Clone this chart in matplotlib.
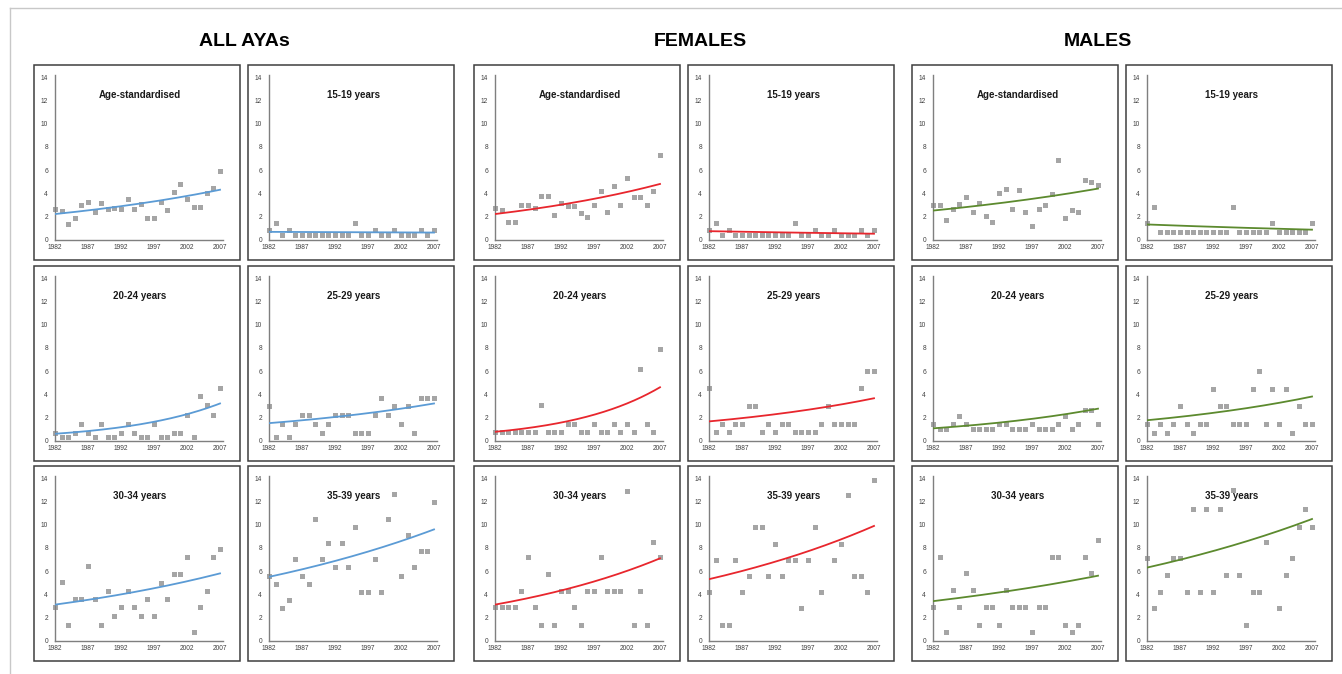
"""
Cancer incidence trends among adolescents and young adults, 1982-2007.
Three groups (all, females, males), six panels each.
"""
import matplotlib
matplotlib.use('Agg')
import matplotlib.pyplot as plt
from matplotlib.patches import Rectangle
from matplotlib.lines import Line2D
import numpy as np

years = np.arange(1982, 2008)
year_ticks = [1982, 1987, 1992, 1997, 2002, 2007]
rate_ticks = [0, 2, 4, 6, 8, 10, 12, 14]

group_titles = ['ALL AYAs', 'FEMALES', 'MALES']
panel_titles = [['Age-standardised', '15-19 years'],
                ['20-24 years', '25-29 years'],
                ['30-34 years', '35-39 years']]
trend_colours = ['#5b9bd5', '#e8262d', '#5c8a2e']

nan = np.nan

# ALL AYAs
all_std = [2.66, 2.5, 1.33, 1.85, 2.94, 3.23, 2.37, 3.18, 2.66, 2.68, 2.66, 3.46, 2.6,
           3.06, 1.9, 1.85, 3.23, 2.54, 4.1, 4.76, 3.46, 2.83, 2.83, 3.98, 4.45, 5.95]
all_15_19 = [0.78, 1.44, 0.35, 0.78, 0.35, 0.35, 0.35, 0.35, 0.35, 0.35, 0.35, 0.35, 0.35,
             1.44, 0.35, 0.35, 0.78, 0.35, 0.35, 0.78, 0.35, 0.35, 0.35, 0.78, 0.35, 0.78]
all_20_24 = [0.66, 0.29, 0.29, 0.66, 1.44, 0.66, 0.29, 1.44, 0.29, 0.29, 0.66, 1.44, 0.66,
             0.29, 0.29, 1.44, 0.29, 0.29, 0.66, 0.66, 2.22, 0.29, 3.81, 3.03, 2.22, 4.56]
all_25_29 = [2.94, 0.29, 1.39, 0.29, 1.39, 2.22, 2.22, 1.39, 0.66, 1.39, 2.22, 2.22, 2.22,
             0.66, 0.66, 0.66, 2.22, 3.7, 2.22, 2.94, 1.39, 2.94, 0.66, 3.7, 3.7, 3.7]
all_30_34 = [2.88, 5.06, 1.37, 3.6, 3.6, 6.45, 3.6, 1.37, 4.27, 2.15, 2.88, 4.27, 2.88,
             2.15, 3.6, 2.15, 5.0, 3.6, 5.73, 5.73, 7.18, 0.7, 2.88, 4.27, 7.18, 7.9]
all_35_39 = [5.58, 4.9, 2.82, 3.46, 7.03, 5.58, 4.9, 10.5, 7.03, 8.4, 6.37, 8.4, 6.37,
             9.85, 4.2, 4.2, 7.03, 4.2, 10.5, 12.7, 5.58, 9.16, 6.37, 7.7, 7.7, 11.98]

# FEMALES
fem_std = [2.74, 2.57, 1.5, 1.5, 3.0, 3.0, 2.71, 3.78, 3.78, 2.1, 3.18, 2.89, 2.89,
           2.25, 1.96, 3.0, 4.19, 2.4, 4.65, 3.0, 5.28, 3.64, 3.64, 3.0, 4.21, 7.3]
fem_15_19 = [0.78, 1.44, 0.35, 0.78, 0.35, 0.35, 0.35, 0.35, 0.35, 0.35, 0.35, 0.35, 0.35,
             1.44, 0.35, 0.35, 0.78, 0.35, 0.35, 0.78, 0.35, 0.35, 0.35, 0.78, 0.35, 0.78]
fem_20_24 = [0.72, 0.72, 0.72, 0.72, 0.72, 0.72, 0.72, 3.09, 0.72, 0.72, 0.72, 1.44, 1.44,
             0.72, 0.72, 1.44, 0.72, 0.72, 1.44, 0.72, 1.44, 0.72, 6.2, 1.44, 0.72, 7.88]
fem_25_29 = [4.53, 0.72, 1.44, 0.72, 1.44, 1.44, 2.94, 2.94, 0.72, 1.44, 0.72, 1.44, 1.44,
             0.72, 0.72, 0.72, 0.72, 1.44, 2.94, 1.44, 1.44, 1.44, 1.44, 4.53, 6.0, 6.0]
fem_30_34 = [2.88, 2.88, 2.88, 2.88, 4.27, 7.18, 2.88, 1.37, 5.73, 1.37, 4.27, 4.27, 2.88,
             1.37, 4.27, 4.27, 7.18, 4.27, 4.27, 4.27, 12.9, 1.37, 4.27, 1.37, 8.55, 7.18]
fem_35_39 = [4.19, 6.98, 1.31, 1.31, 6.98, 4.19, 5.55, 9.8, 9.8, 5.55, 8.34, 5.55, 6.98,
             6.98, 2.82, 6.98, 9.8, 4.19, nan, 6.98, 8.34, 12.56, 5.55, 5.55, 4.19, 13.9]

# MALES
male_std = [2.94, 2.94, 1.65, 2.66, 3.06, 3.67, 2.37, 3.18, 2.0, 1.5, 4.04, 4.33, 2.66,
            4.27, 2.37, 1.15, 2.66, 3.0, 3.9, 6.84, 1.9, 2.54, 2.37, 5.17, 4.94, 4.73]
male_15_19 = [1.44, 2.83, 0.66, 0.66, 0.66, 0.66, 0.66, 0.66, 0.66, 0.66, 0.66, 0.66, 0.66,
              2.83, 0.66, 0.66, 0.66, 0.66, 0.66, 1.44, 0.66, 0.66, 0.66, 0.66, 0.66, 1.44]
male_20_24 = [1.44, 1.0, 1.0, 1.44, 2.08, 1.44, 1.0, 1.0, 1.0, 1.0, 1.44, 1.44, 1.0,
              1.0, 1.0, 1.44, 1.0, 1.0, 1.0, 1.44, 2.08, 1.0, 1.44, 2.6, 2.6, 1.44]
male_25_29 = [1.39, 0.64, 1.39, 0.64, 1.39, 2.94, 1.39, 0.64, 1.39, 1.39, 4.45, 2.94, 2.94,
              1.39, 1.39, 1.39, 4.45, 6.0, 1.39, 4.45, 1.39, 4.45, 0.64, 2.94, 1.39, 1.39]
male_30_34 = [2.88, 7.24, 0.7, 4.33, 2.88, 5.81, 4.33, 1.37, 2.88, 2.88, 1.37, 4.33, 2.88,
              2.88, 2.88, 0.7, 2.88, 2.88, 7.24, 7.24, 1.37, 0.7, 1.37, 7.24, 5.81, 8.7]
male_35_39 = [7.12, 2.82, 4.2, 5.67, 7.12, 7.12, 4.2, 11.4, 4.2, 11.4, 4.2, 11.4, 5.67,
              13.0, 5.67, 1.37, 4.2, 4.2, 8.55, nan, 2.82, 5.67, 7.12, 9.8, 11.4, 9.8]

# Fitted trend (constant annual change): value in 1982 and in 2007
# order per group: std, 15-19, 20-24, 25-29, 30-34, 35-39
all_trend_1982 = [2.2, 0.66, 0.58, 1.5, 3.1, 5.5]
all_trend_2007 = [4.3, 0.6, 3.2, 3.2, 5.8, 9.6]
fem_trend_1982 = [2.2, 0.72, 0.75, 1.65, 3.1, 5.3]
fem_trend_2007 = [4.8, 0.5, 4.6, 3.65, 7.1, 9.9]
male_trend_1982 = [2.5, 1.3, 1.05, 1.75, 3.4, 6.3]
male_trend_2007 = [4.4, 0.85, 2.75, 3.8, 5.6, 10.5]

group_series = [
    [[all_std, all_15_19], [all_20_24, all_25_29], [all_30_34, all_35_39]],
    [[fem_std, fem_15_19], [fem_20_24, fem_25_29], [fem_30_34, fem_35_39]],
    [[male_std, male_15_19], [male_20_24, male_25_29], [male_30_34, male_35_39]],
]
group_trends = [(all_trend_1982, all_trend_2007),
                (fem_trend_1982, fem_trend_2007),
                (male_trend_1982, male_trend_2007)]


def trend_curve(start, end, x_out):
    """Log-linear trend through the fitted 1982 and 2007 values."""
    frac = (x_out - 1982) / 25.0
    return start * (end / start) ** frac


# Layout in pixels
W, H = 1342, 674
box_lefts = [[34, 248], [474, 688], [912, 1126]]
box_width = 206
box_tops = [65, 266, 466]
box_height = 195
header_x = [244, 700, 1098]

plt.rcParams['font.family'] = ['Liberation Sans', 'DejaVu Sans']

fig = plt.figure(figsize=(W / 100, H / 100), dpi=100)
fig.patch.set_facecolor('white')

# Outer frame (top and left edges)
fig.add_artist(Line2D([10 / W, 1], [1 - 8 / H, 1 - 8 / H], transform=fig.transFigure,
                      color='#c8c8c8', lw=1.0))
fig.add_artist(Line2D([10 / W, 10 / W], [0, 1 - 8 / H], transform=fig.transFigure,
                      color='#c8c8c8', lw=1.0))

x_smooth = np.linspace(1982, 2007, 200)

for g in range(3):
    fig.text(header_x[g] / W, 1 - 41 / H, group_titles[g], ha='center', va='center',
             fontsize=14, fontweight='bold')
    for r in range(3):
        for c in range(2):
            left = box_lefts[g][c]
            top = box_tops[r]
            k = r * 2 + c

            # Panel frame
            fig.add_artist(Rectangle((left / W, 1 - (top + box_height) / H),
                                     box_width / W, box_height / H,
                                     transform=fig.transFigure, fill=False,
                                     edgecolor='#3f3f3f', lw=1.1))

            # Plot area: 1982 at left+21, 2007 at right-20; 0 at top+174.5, 14 at top+12.5
            px_per_year = (box_width - 41) / 25.0
            px_per_unit = 162.0 / 14.0
            ax_left = left + 21
            ax_width = px_per_year * 25.4
            ax_bottom = top + 174.5
            ax_height = px_per_unit * 14.2
            ax = fig.add_axes([ax_left / W, 1 - ax_bottom / H, ax_width / W, ax_height / H])

            values = np.asarray(group_series[g][r][c], dtype=float)
            ax.plot(years, values, linestyle='none', marker='s', markersize=3.6,
                    markeredgewidth=0, color='#a5a5a5', zorder=2, clip_on=False)
            start, end = group_trends[g][0][k], group_trends[g][1][k]
            ax.plot(x_smooth, trend_curve(start, end, x_smooth),
                    color=trend_colours[g], lw=1.3, zorder=3)

            ax.set_xlim(1982, 1982 + 25.4)
            ax.set_ylim(0, 14.2)
            ax.set_xticks(year_ticks)
            ax.set_yticks(rate_ticks)
            ax.tick_params(length=0, labelsize=4.8, labelcolor='#404040')
            ax.tick_params(axis='y', pad=5)
            ax.tick_params(axis='x', pad=3)
            for side in ['top', 'right']:
                ax.spines[side].set_visible(False)
            for side in ['left', 'bottom']:
                ax.spines[side].set_color('#7f7f7f')
                ax.spines[side].set_linewidth(1.0)
            ax.patch.set_alpha(0)

            ax.text(1994.8, 12.5, panel_titles[r][c], ha='center', va='center',
                    fontsize=7, fontweight='bold', color='#1a1a1a', zorder=4)

plt.savefig('out.png', dpi=100, facecolor='white')
plt.close('all')
